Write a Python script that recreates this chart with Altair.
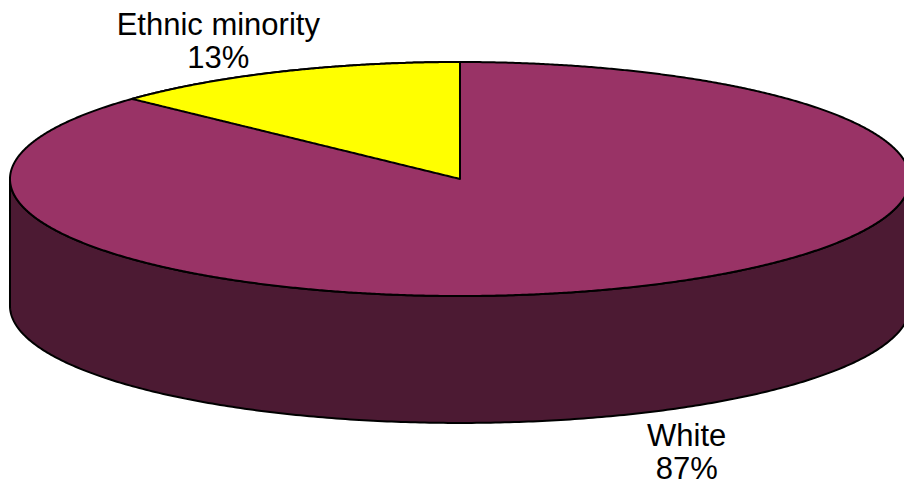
import altair as alt
import numpy as np
import pandas as pd

# ---- data ----
categories = ["White", "Ethnic minority"]
values = [87, 13]
top_colors = ["#993366", "#FFFF00"]
side_colors = ["#4C1A33", "#808000"]

# ---- geometry settings (unit ellipse, y up) ----
DEPTH = 1.085
XDOM = [-1.0222, 0.9867]
YDOM = [-2.6325, 1.5299]
W, H = 904, 487

total = float(sum(values))
# slices go clockwise from 12 o'clock; store as CCW ranges [lo, hi] in degrees
slices = []
cum = 0.0
for c, v in zip(categories, values):
    start = 90 - 360 * cum / total
    cum += v
    end = 90 - 360 * cum / total
    slices.append((c, end, start))

# side wall (front half 180..360) for each slice that reaches the front
side_rows = []
for c, lo, hi in slices:
    for k in (-360, 0, 360):
        a, b = max(lo + k, 180), min(hi + k, 360)
        if b > a:
            for t in np.linspace(a, b, 300):
                r = np.radians(t)
                side_rows.append({"cat": c, "x": np.cos(r), "y": np.sin(r),
                                  "y2": np.sin(r) - DEPTH})
side_df = pd.DataFrame(side_rows)

# top: full ellipse in colour of the biggest slice, other slices as wedges on it
big = categories[int(np.argmax(values))]
ts = np.radians(np.linspace(180, 0, 600))
top_df = pd.DataFrame({"cat": big, "x": np.cos(ts), "y": np.sin(ts), "y2": -np.sin(ts)})

wedge_rows = []
for c, lo, hi in slices:
    if c == big:
        continue
    lo_m = lo % 360
    hi_m = lo_m + (hi - lo)
    edge = hi_m if abs(np.cos(np.radians(hi_m))) > 1e-9 else lo_m
    for t in np.linspace(lo_m, hi_m, 200):
        r = np.radians(t)
        wedge_rows.append({"cat": c, "x": np.cos(r), "y": np.sin(r),
                           "y2": np.cos(r) * np.tan(np.radians(edge))})
wedge_df = pd.DataFrame(wedge_rows)

# labels anchored at each slice's mid angle
lab_rows = []
for (c, lo, hi), v in zip(slices, values):
    m = np.radians((lo + hi) / 2)
    y = np.sin(m)
    if y < 0:
        y -= DEPTH
    lab_rows.append({"cat": c, "x": np.cos(m), "y": y, "label": f"{c}\n{v}%"})
lab_df = pd.DataFrame(lab_rows)

xs = alt.Scale(domain=XDOM, nice=False, zero=False)
ys = alt.Scale(domain=YDOM, nice=False, zero=False)
side_scale = alt.Scale(domain=categories, range=side_colors)
top_scale = alt.Scale(domain=categories, range=top_colors)

def enc(df, scale):
    return alt.Chart(df).mark_area(stroke="black", strokeWidth=2, strokeJoin="round").encode(
        x=alt.X("x:Q", scale=xs, axis=None),
        y=alt.Y("y:Q", scale=ys, axis=None),
        y2="y2:Q",
        color=alt.Color("cat:N", scale=scale, legend=None),
        detail="cat:N",
    )

side = enc(side_df, side_scale)
top = alt.layer(enc(top_df, top_scale), enc(wedge_df, top_scale))

offsets = {"White": (48, 33), "Ethnic minority": (-63, -37)}
labels = []
for c in categories:
    dx, dy = offsets[c]
    labels.append(
        alt.Chart(lab_df).transform_filter(alt.datum.cat == c).mark_text(
            font="Liberation Sans", fontSize=31, lineBreak="\n", lineHeight=33,
            align="center", baseline="alphabetic", color="black", dx=dx, dy=dy,
        ).encode(
            x=alt.X("x:Q", scale=xs, axis=None),
            y=alt.Y("y:Q", scale=ys, axis=None),
            text="label:N",
        )
    )

chart = alt.layer(side, top, *labels).resolve_scale(color="independent").properties(
    width=W, height=H, padding=0, autosize=alt.AutoSizeParams(type="none"),
    background="white",
).configure_view(stroke=None)

chart.save("out.html", embed_options={"renderer": "svg", "actions": False})
